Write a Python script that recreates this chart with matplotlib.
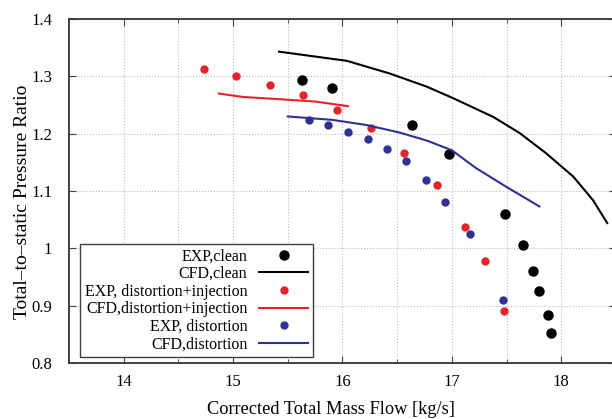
import matplotlib
matplotlib.use("Agg")
import matplotlib.pyplot as plt
from matplotlib.ticker import MultipleLocator

plt.rcParams['font.family'] = ['Liberation Serif', 'DejaVu Serif']

# EXP, clean
exp_clean_x = [15.63, 15.90, 16.64, 16.97, 17.49, 17.65, 17.74, 17.80, 17.88, 17.91]
exp_clean_y = [1.293, 1.279, 1.215, 1.164, 1.060, 1.006, 0.960, 0.926, 0.884, 0.852]

# CFD, clean
cfd_clean_x = [15.42, 16.04, 16.43, 16.77, 17.01, 17.38, 17.62, 17.86, 18.11, 18.29, 18.42]
cfd_clean_y = [1.343, 1.327, 1.305, 1.282, 1.262, 1.229, 1.201, 1.166, 1.125, 1.084, 1.044]

# EXP, distortion+injection
exp_inj_x = [14.73, 15.03, 15.34, 15.64, 15.95, 16.26, 16.56, 16.86, 17.12, 17.30, 17.48]
exp_inj_y = [1.313, 1.301, 1.285, 1.267, 1.242, 1.210, 1.166, 1.110, 1.037, 0.978, 0.891]

# CFD, distortion+injection
cfd_inj_x = [14.87, 15.09, 15.43, 15.75, 16.05]
cfd_inj_y = [1.270, 1.264, 1.260, 1.256, 1.248]

# EXP, distortion
exp_dist_x = [15.69, 15.87, 16.05, 16.23, 16.41, 16.58, 16.76, 16.94, 17.17, 17.47]
exp_dist_y = [1.223, 1.215, 1.203, 1.190, 1.174, 1.152, 1.119, 1.080, 1.025, 0.910]

# CFD, distortion
cfd_dist_x = [15.50, 15.91, 16.22, 16.52, 16.77, 17.00, 17.22, 17.50, 17.80]
cfd_dist_y = [1.230, 1.224, 1.215, 1.202, 1.188, 1.171, 1.140, 1.107, 1.073]

yticks = [0.8, 0.9, 1.0, 1.1, 1.2, 1.3, 1.4]
ytick_labels = ['0.8', '0.9', '1', '1.1', '1.2', '1.3', '1.4']

red = '#e8222a'
blue = '#2e3192'

fig = plt.figure(figsize=(6.12, 4.19), dpi=100)
ax = fig.add_axes([0.1127, 0.1337, 0.8938, 0.821])

ax.plot(exp_clean_x, exp_clean_y, 'o', color='black', markersize=6.5, label='EXP,clean')
ax.plot(cfd_clean_x, cfd_clean_y, '-', color='black', linewidth=1.5, label='CFD,clean')
ax.plot(exp_inj_x, exp_inj_y, 'o', color=red, markersize=5, label='EXP, distortion+injection')
ax.plot(cfd_inj_x, cfd_inj_y, '-', color=red, linewidth=1.5, label='CFD,distortion+injection')
ax.plot(exp_dist_x, exp_dist_y, 'o', color=blue, markersize=5, label='EXP, distortion')
ax.plot(cfd_dist_x, cfd_dist_y, '-', color=blue, linewidth=1.5, label='CFD,distortion')

ax.set_xlim(13.5, 18.5)
ax.set_ylim(0.8, 1.4)
ax.xaxis.set_major_locator(MultipleLocator(1))
ax.xaxis.set_minor_locator(MultipleLocator(0.5))
ax.set_yticks(yticks)
ax.set_yticklabels(ytick_labels)

ax.grid(True, which='both', linestyle=':', color='#bbbbbb', linewidth=0.8)
ax.tick_params(which='both', direction='in', top=True, right=True, labelsize=12,
               color='#404040')
ax.tick_params(axis='x', pad=8)
ax.tick_params(axis='y', pad=12)
ax.tick_params(which='major', length=5)
ax.tick_params(which='minor', length=3)
for s in ax.spines.values():
    s.set_color('#404040')
    s.set_linewidth(1.4)

ax.set_xlabel('Corrected Total Mass Flow [kg/s]', fontsize=13.2)
ax.set_ylabel('Total\u2013to\u2013static Pressure Ratio', fontsize=14)
ax.xaxis.set_label_coords(0.478, -0.11)
ax.yaxis.set_label_coords(-0.07, 0.468)

leg = ax.legend(loc='lower left', bbox_to_anchor=(0.02, 0.017), borderaxespad=0,
                fontsize=11.5, markerfirst=False, fancybox=False, framealpha=1,
                edgecolor='#404040', handlelength=3.05, labelspacing=0.1,
                borderpad=0.3, handletextpad=0.75)
leg.get_frame().set_linewidth(1.0)
for t in leg.get_texts():
    t.set_ha('right')
leg._legend_box.align = 'right'

fig.savefig('out.png', dpi=100)
